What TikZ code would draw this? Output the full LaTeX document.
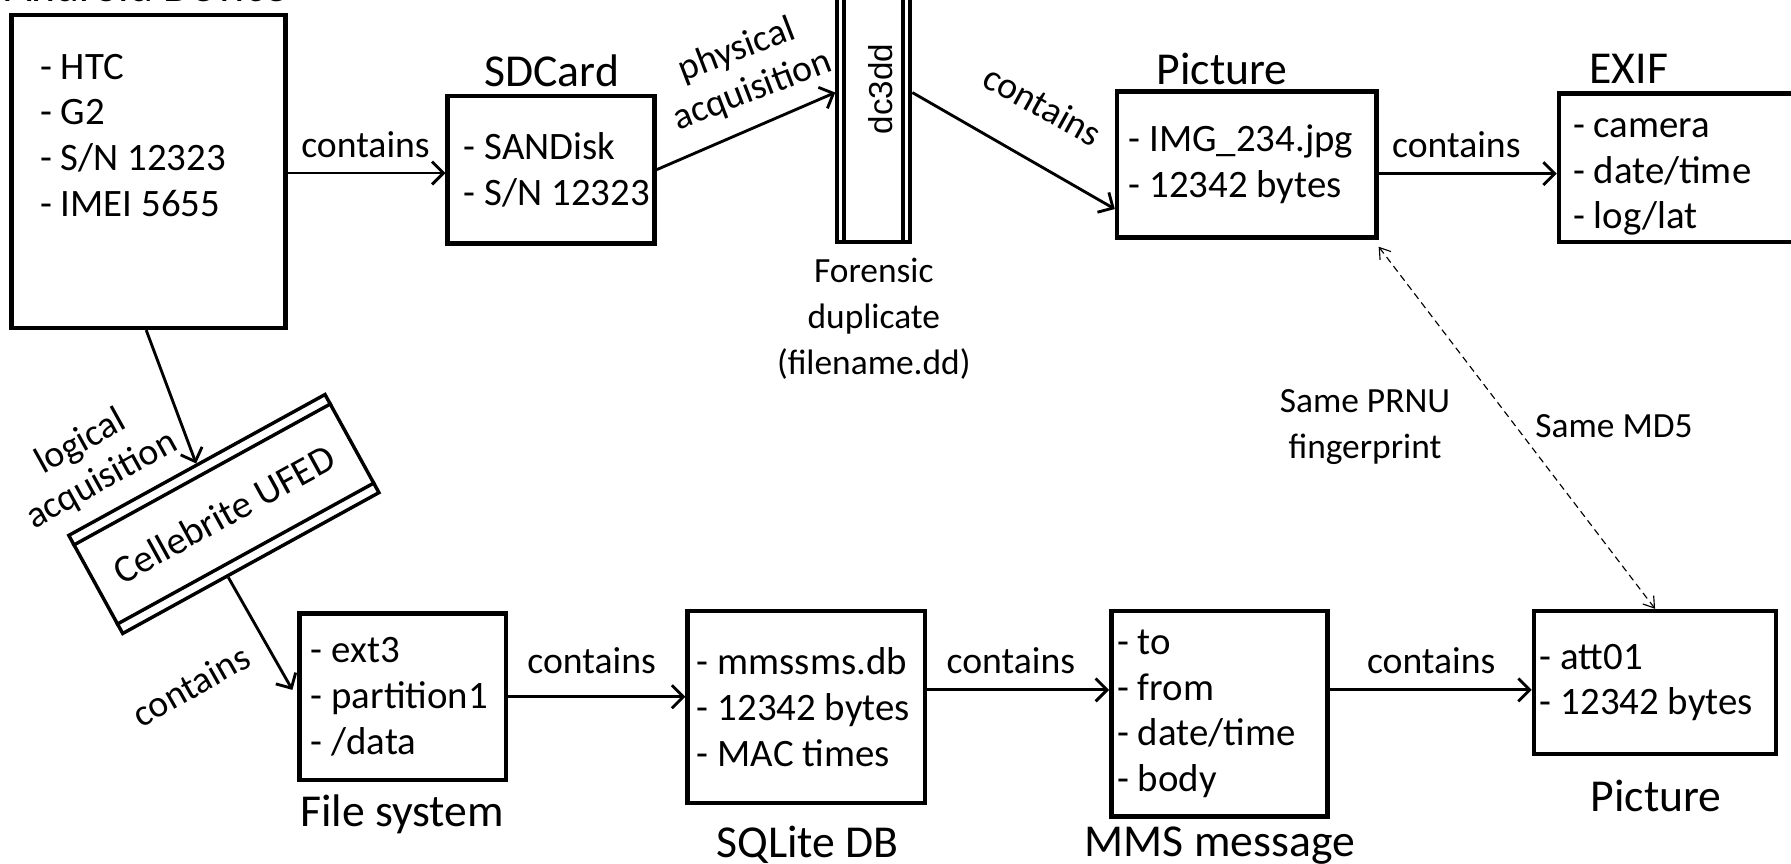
\documentclass[tikz,border=0pt]{standalone}
\usepackage{fontspec}
\setmainfont{Carlito}
\newfontfamily\dcfont{Liberation Sans}
\usetikzlibrary{arrows.meta,calc}
\tikzset{
  box/.style={draw, line width=4pt, inner sep=0pt},
  txt/.style={font=\fontsize{34}{40}\selectfont, align=left, inner sep=0pt, anchor=west},
  ttl/.style={font=\fontsize{40}{48}\selectfont, inner sep=0pt},
  lbl/.style={font=\fontsize{33}{38}\selectfont, inner sep=0pt, align=center},
  sml/.style={font=\fontsize{31}{40}\selectfont, inner sep=0pt, align=center},
  arr/.style={line width=2.5pt, -{Straight Barb[length=10pt,width=20pt,line width=2.5pt]}},
  dsh/.style={line width=1pt, dash pattern=on 6pt off 4pt,
    {Straight Barb[length=9pt,width=12pt,line width=1pt]}-{Straight Barb[length=9pt,width=12pt,line width=1pt]}}
}
\begin{document}
\begin{tikzpicture}[x=1pt,y=-1pt]
\useasboundingbox (0,0) rectangle (1568,756);
% top row boxes
\node[box, minimum width=240pt, minimum height=274pt] (and) at (130,150) {};
\node[ttl, anchor=base] (andT) at (128,1) {Android Device};
\node[txt, anchor=north west] (andX) at ([xshift=27pt,yshift=-36pt]and.north west) {- HTC\\- G2\\- S/N 12323\\- IMEI 5655};

\node[box, minimum width=181pt, minimum height=129pt] (sd) at (482.5,148.5) {};
\node[ttl] (sdT) at (483,62) {SDCard};
\node[txt] (sdX) at ([xshift=16pt]sd.west) {- SANDisk\\- S/N 12323};

\node[draw, line width=3.5pt, minimum width=64pt, minimum height=240pt, inner sep=0pt] (dc) at (765,92) {};
\draw[line width=3.5pt] ([xshift=8pt]dc.north west) -- ([xshift=8pt]dc.south west);
\draw[line width=3.5pt] ([xshift=-8pt]dc.north east) -- ([xshift=-8pt]dc.south east);
\node[rotate=90, font=\dcfont\fontsize{29}{30}\selectfont, inner sep=0pt] (dcT) at (771,78) {dc3dd};
\node[sml] (dcL) at (765,279) {Forensic\\duplicate\\(filename.dd)};

\node[box, minimum width=227pt, minimum height=128pt] (pic) at (1091.5,144) {};
\node[ttl] (picT) at (1070,60) {Picture};
\node[txt] (picX) at ([xshift=12pt]pic.west) {- IMG\_234.jpg\\- 12342 bytes};

\node[box, minimum width=215pt, minimum height=130pt] (exif) at (1472.5,147) {};
\node[ttl] (exifT) at (1426,60) {EXIF};
\node[txt] (exifX) at ([xshift=14pt,yshift=-8pt]exif.west) {- camera\\- date/time\\- log/lat};

% Cellebrite
\node[draw, line width=3pt, minimum width=256pt, minimum height=98pt, inner sep=0pt, rotate=28.8,
  font=\fontsize{34}{38}\selectfont] (cel) at (196,450) {Cellebrite UFED};
\draw[line width=3pt] ($(cel.north west)!11pt!(cel.south west)$) -- ($(cel.north east)!11pt!(cel.south east)$);
\draw[line width=3pt] ($(cel.south west)!11pt!(cel.north west)$) -- ($(cel.south east)!11pt!(cel.north east)$);

% bottom row boxes
\node[box, minimum width=181pt, minimum height=146pt] (fs) at (352.5,610) {};
\node[ttl] (fsT) at (352,713) {File system};
\node[txt] (fsX) at ([xshift=12pt]fs.west) {- ext3\\- partition1\\- /data};

\node[box, minimum width=208pt, minimum height=168pt] (sql) at (706,619) {};
\node[ttl] (sqlT) at (707,740) {SQLite DB};
\node[txt] (sqlX) at ([xshift=10pt]sql.west) {- mmssms.db\\- 12342 bytes\\- MAC times};

\node[box, minimum width=189pt, minimum height=180pt] (mms) at (1067.5,625) {};
\node[ttl] (mmsT) at (1068,740) {MMS message};
\node[txt] (mmsX) at ([xshift=7pt]mms.west) {- to\\- from\\- date/time\\- body};

\node[box, minimum width=212pt, minimum height=125pt] (pic2) at (1449,597.5) {};
\node[ttl] (pic2T) at (1450,697) {Picture};
\node[txt] (pic2X) at ([xshift=7pt]pic2.west) {- att01\\- 12342 bytes};

% connectors
\draw[arr] ([yshift=-3pt]and.east |- sd.west) -- ([yshift=-3pt]sd.west);
\node[lbl] (l1) at (320,127) {contains};

\draw[arr] (sd.east) -- ([yshift=11pt]dc.west);
\node[lbl, rotate=21] (l2) at (652,62) {physical\\acquisition};

\draw[arr] ([yshift=11pt]dc.east) -- ([yshift=-39pt]pic.west);
\node[lbl, rotate=-29] (l3) at (913,92) {contains};

\draw[arr] ([yshift=-8pt]pic.east) -- ([yshift=-8pt]pic.east -| exif.west);
\node[lbl] (l4) at (1275,127) {contains};

\draw[arr] ([xshift=-2pt]and.south) -- (cel.north);
\node[lbl, rotate=29] (l5) at (80,404) {logical\\acquisition};

\draw[arr] ($(cel.south west)!0.41!(cel.south east)$) -- ([xshift=-4pt,yshift=6pt]fs.west);
\node[lbl, rotate=29.5] (l6) at (167,600) {contains};

\draw[arr] (fs.east) -- (fs.east -| sql.west);
\node[lbl] (l7) at (518,578) {contains};

\draw[arr] ([yshift=15pt]sql.east) -- ([yshift=15pt]sql.east -| mms.west);
\node[lbl] (l8) at (885,578) {contains};

\draw[arr] ([yshift=21pt]mms.east) -- ([yshift=21pt]mms.east -| pic2.west);
\node[lbl] (l9) at (1253,578) {contains};

\draw[dsh] ([yshift=-6pt]pic.south east) -- (pic2.north);
\node[sml] (l10) at (1195,374) {Same PRNU\\fingerprint};
\node[sml, anchor=west] (l11) at (1344,373) {Same MD5};
\end{tikzpicture}
\end{document}
